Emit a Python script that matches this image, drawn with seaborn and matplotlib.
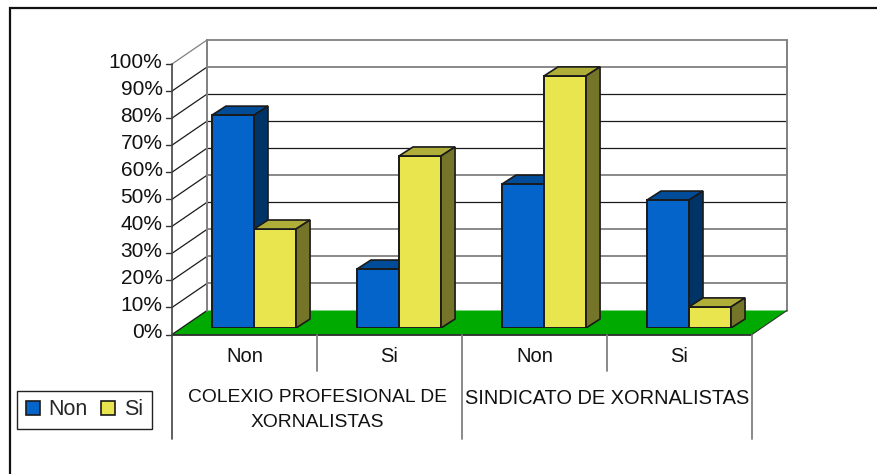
import matplotlib
matplotlib.use("Agg")
import matplotlib.pyplot as plt
from matplotlib.patches import Polygon, Patch
import pandas as pd
import seaborn as sns

# ---- data ----
groups = ["COLEXIO PROFESIONAL DE\nXORNALISTAS", "SINDICATO DE XORNALISTAS"]
answers = ["Non", "Si", "Non", "Si"]
series_names = ["Non", "Si"]
non_values = [78.7, 21.8, 53.2, 47.3]
si_values = [36.6, 63.6, 93.2, 7.8]
y_labels = ["0%", "10%", "20%", "30%", "40%", "50%", "60%", "70%", "80%", "90%", "100%"]

# ---- style ----
W, H = 877, 474
BLUE, BLUE_TOP, BLUE_SIDE = "#0564C9", "#004C99", "#003366"
YEL, YEL_TOP, YEL_SIDE = "#E9E54E", "#AEAE38", "#757529"
GREEN = "#00AA00"
GRAY = "#808080"
FONT = "Liberation Sans"
GRID_COLORS = ["k", GRAY, GRAY, GRAY, "k", GRAY, "k", "k", "k", GRAY, GRAY, GRAY]
GROUP_SIZES = [13.9, 14.4]
FX0, FX1, FY0 = 172, 752, 334.5   # front floor edge
STEP = 27.05                      # px per 10 %
DX, DY = 35, 24                   # wall depth
BAR_DX, BAR_DY = 14, 9            # bar depth

sns.set_theme(style="white")
plt.rcParams["font.family"] = [FONT, "DejaVu Sans"]
fig = plt.figure(figsize=(W / 100, H / 100), dpi=100, facecolor="white")

# pixel-space axes for the chart furniture
bg = fig.add_axes([0, 0, 1, 1], zorder=0)
bg.set_xlim(0, W)
bg.set_ylim(H, 0)
bg.axis("off")

# outer frame (top and left edges visible)
bg.plot([9.5, 9.5, W], [H, 8, 8], color="#111111", lw=1.6, solid_joinstyle="miter")

# floor
bg.add_patch(Polygon([(FX0, FY0), (FX1, FY0), (FX1 + DX, FY0 - DY), (FX0 + DX, FY0 - DY)],
                     facecolor=GREEN, edgecolor="none", zorder=1))
bg.plot([FX0, FX1], [FY0, FY0], color="k", lw=1.2, zorder=2)
bg.plot([FX1, FX1 + DX], [FY0, FY0 - DY], color="#333333", lw=0.8, zorder=2)

# walls and grid
top_back = FY0 - DY - 10 * STEP
for i, lab in enumerate(y_labels):
    yf = FY0 - i * STEP
    yb = yf - DY
    if i > 0:
        bg.plot([FX0 + DX, FX1 + DX], [yb, yb], color=GRID_COLORS[i],
                lw=1.3 if GRID_COLORS[i] == GRAY else 0.9, zorder=1)
    bg.plot([FX0, FX0 + DX], [yf, yb], color=GRAY if i == 10 else "k", lw=0.9, zorder=1)
    bg.plot([FX0 - 6, FX0], [yf, yf], color="#333333", lw=1.0, zorder=1)
    bg.text(FX0 - 9.5, yf - 1.5, lab, ha="right", va="center", fontsize=15, color="#111111", zorder=3)
bg.plot([FX0 + DX, FX0 + DX], [FY0 - DY, top_back], color=GRAY, lw=1.4, zorder=1)
bg.plot([FX1 + DX, FX1 + DX], [FY0 - DY, top_back], color=GRAY, lw=1.4, zorder=1)

# category axis dividers
bg.plot([FX0, FX0], [FY0 - 10 * STEP, 439], color="#444444", lw=1.2, zorder=2)
cell = (FX1 - FX0) / 4
for i in range(1, 5):
    x = FX0 + i * cell
    bg.plot([x, x], [FY0, 439 if i % 2 == 0 else 371], color=GRAY, lw=1.3, zorder=2)
for i, lab in enumerate(answers):
    bg.text(FX0 + (i + 0.5) * cell, 357, lab, ha="center", va="center", fontsize=14.5, color="#111111")
for i, g in enumerate(groups):
    bg.text(FX0 + (2 * i + 1) * cell, 389, g, ha="center", va="top", fontsize=GROUP_SIZES[i],
            color="#111111", linespacing=1.58)

# seaborn bars: plane shifted into the depth of the floor
ax = fig.add_axes([181.5 / W, 1 - 328 / H, 580 / W, 10 * STEP / H], zorder=1)
ax.patch.set_alpha(0)
rows = [f"{groups[i // 2]}|{i}" for i in range(4)]
df = pd.DataFrame({
    "cat": rows * 2,
    "serie": ["Non"] * 4 + ["Si"] * 4,
    "val": non_values + si_values,
})
sns.barplot(data=df, x="cat", y="val", hue="serie", order=rows, hue_order=series_names,
            palette=[BLUE, YEL], width=0.58, gap=0, saturation=1, dodge=True,
            edgecolor="k", linewidth=1.4, legend=False, ax=ax, zorder=3)
ax.set_xlim(-0.5, 3.5)
ax.set_ylim(0, 100)
ax.axis("off")

ddx = BAR_DX / cell
ddy = BAR_DY / STEP * 10
for n, bar in enumerate(ax.patches[:8]):
    x0, w, h = bar.get_x(), bar.get_width(), bar.get_height()
    is_non = n < 4
    z = 2 if is_non else 3
    bar.set_zorder(3)
    ax.add_patch(Polygon([(x0, h), (x0 + w, h), (x0 + w + ddx, h + ddy), (x0 + ddx, h + ddy)],
                         facecolor=BLUE_TOP if is_non else YEL_TOP, edgecolor="k", lw=1.2,
                         zorder=z, joinstyle="miter"))
    ax.add_patch(Polygon([(x0 + w, 0), (x0 + w, h), (x0 + w + ddx, h + ddy), (x0 + w + ddx, ddy)],
                         facecolor=BLUE_SIDE if is_non else YEL_SIDE, edgecolor="k", lw=1.2,
                         zorder=z, joinstyle="miter"))

# legend
handles = [Patch(facecolor=BLUE, edgecolor="k", lw=1.2), Patch(facecolor=YEL, edgecolor="k", lw=1.2)]
fig.legend(handles, series_names, loc="lower left",
           bbox_to_anchor=(17 / W, 1 - 429 / H), ncol=2, frameon=True, fancybox=False,
           edgecolor="#222222", framealpha=1, fontsize=15.5, handlelength=0.65, handleheight=0.65,
           handletextpad=0.4, columnspacing=0.65, borderpad=0.4, borderaxespad=0, labelspacing=0)

fig.savefig("out.png", dpi=100, facecolor="white")
